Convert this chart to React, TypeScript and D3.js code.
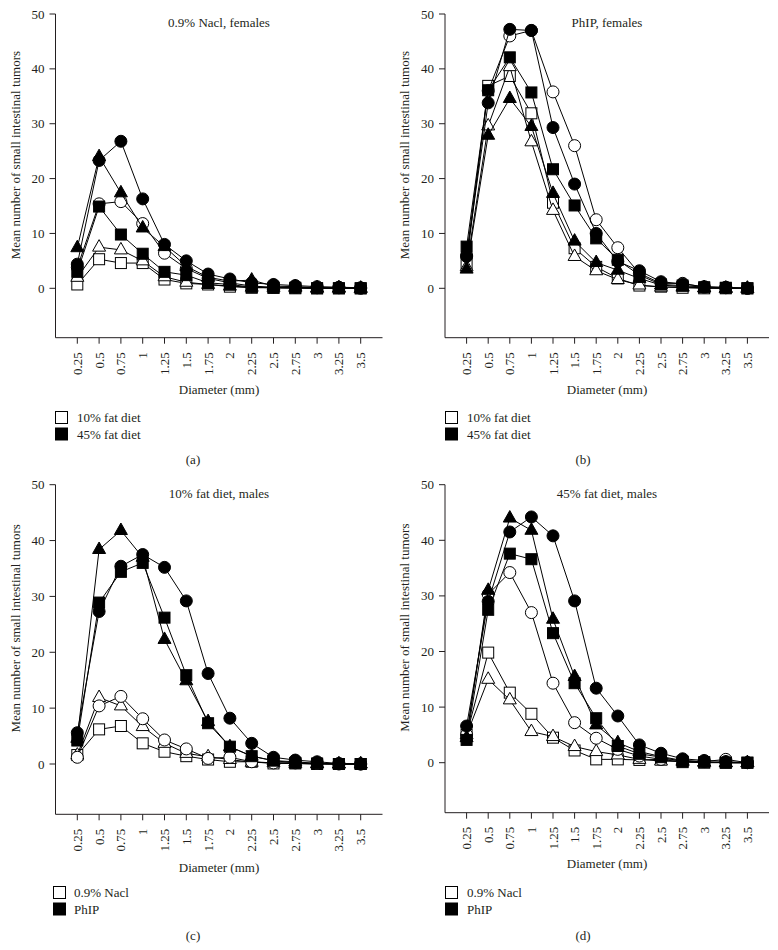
import React from "react";
import * as d3 from "d3";

const diameters = [0.25, 0.5, 0.75, 1, 1.25, 1.5, 1.75, 2, 2.25, 2.5, 2.75, 3, 3.25, 3.5];
const diameterLabels = ["0.25", "0.5", "0.75", "1", "1.25", "1.5", "1.75", "2", "2.25", "2.5", "2.75", "3", "3.25", "3.5"];
const yTicks = [0, 10, 20, 30, 40, 50];

// Panel (a) 0.9% Nacl, females
const aOpenCircle = [3.8, 15.4, 15.8, 11.8, 6.4, 3.6, 1.8, 1.0, 0.4, 0.2, 0.2, 0.1, 0.1, 0];
const aFilledCircle = [4.4, 23.3, 26.8, 16.3, 8.0, 5.0, 2.6, 1.7, 1.0, 0.7, 0.5, 0.3, 0.2, 0.1];
const aOpenTriangle = [2.0, 7.5, 7.0, 5.0, 2.1, 1.1, 0.7, 0.4, 0.2, 0.1, 0.1, 0, 0, 0];
const aFilledTriangle = [7.4, 24.0, 17.4, 11.0, 7.6, 4.0, 2.0, 1.3, 1.5, 0.4, 0.3, 0.1, 0.1, 0];
const aOpenSquare = [0.7, 5.3, 4.6, 4.6, 1.6, 0.9, 0.7, 0.3, 0.1, 0.1, 0, 0, 0, 0];
const aFilledSquare = [3.0, 14.9, 9.8, 6.3, 3.0, 2.4, 1.0, 0.7, 0.2, 0.1, 0.1, 0, 0, 0];

// Panel (b) PhIP, females
const bOpenCircle = [6.0, 36.0, 46.0, 47.0, 35.8, 26.0, 12.5, 7.4, 2.7, 0.9, 0.9, 0.2, 0.1, 0];
const bFilledCircle = [5.8, 33.8, 47.2, 47.0, 29.3, 19.0, 10.0, 4.9, 3.2, 1.2, 0.8, 0.3, 0.2, 0];
const bOpenTriangle = [3.9, 29.6, 40.4, 26.7, 14.2, 5.8, 3.2, 1.6, 0.6, 0.2, 0.2, 0.1, 0, 0];
const bFilledTriangle = [3.5, 27.9, 34.6, 29.5, 17.3, 8.6, 4.7, 3.3, 1.8, 0.6, 0.3, 0.1, 0, 0];
const bOpenSquare = [4.5, 36.9, 38.7, 31.9, 15.6, 7.3, 3.9, 1.8, 0.5, 0.3, 0.1, 0, 0, 0];
const bFilledSquare = [7.6, 36.1, 42.1, 35.7, 21.7, 15.1, 9.1, 5.2, 2.4, 0.7, 0.5, 0.2, 0.1, 0];

// Panel (c) 10% fat diet, males
const cOpenCircle = [1.2, 10.4, 12.1, 8.1, 4.3, 2.7, 1.0, 1.2, 0.4, 0.2, 0.2, 0.1, 0, 0];
const cFilledCircle = [5.6, 27.3, 35.4, 37.5, 35.2, 29.2, 16.2, 8.2, 3.7, 1.2, 0.7, 0.4, 0.1, 0];
const cOpenTriangle = [1.6, 11.9, 10.4, 6.7, 3.7, 1.9, 1.3, 0.8, 0.3, 0.2, 0.1, 0, 0, 0];
const cFilledTriangle = [4.6, 38.4, 41.8, 37.0, 22.3, 14.9, 7.6, 3.1, 1.4, 0.6, 0.4, 0.1, 0, 0];
const cOpenSquare = [1.6, 6.2, 6.8, 3.7, 2.2, 1.4, 0.8, 0.4, 0.4, 0.1, 0.1, 0, 0, 0];
const cFilledSquare = [4.2, 28.9, 34.4, 36.0, 26.2, 15.9, 7.3, 3.1, 1.4, 0.6, 0.2, 0.1, 0, 0];

// Panel (d) 45% fat diet, males
const dOpenCircle = [5.0, 30.3, 34.2, 27.0, 14.3, 7.2, 4.4, 2.4, 1.2, 0.6, 0.4, 0.2, 0.6, 0];
const dFilledCircle = [6.6, 29.0, 41.5, 44.2, 40.8, 29.1, 13.4, 8.4, 3.2, 1.7, 0.7, 0.4, 0.2, 0];
const dOpenTriangle = [5.0, 15.0, 11.3, 5.6, 4.7, 2.9, 2.0, 1.4, 0.6, 0.3, 0.2, 0.1, 0, 0];
const dFilledTriangle = [4.5, 31.0, 44.0, 41.8, 25.8, 15.5, 6.8, 3.6, 2.0, 1.1, 0.4, 0.1, 0, 0];
const dOpenSquare = [5.0, 19.8, 12.6, 8.8, 4.5, 2.2, 0.6, 0.6, 0.5, 0.6, 0.1, 0, 0, 0];
const dFilledSquare = [4.1, 27.5, 37.6, 36.6, 23.3, 14.3, 8.0, 3.0, 1.6, 1.0, 0.2, 0.1, 0, 0];

const panelTitles = ["0.9% Nacl, females", "PhIP, females", "10% fat diet, males", "45% fat diet, males"];
const panelLetters = ["(a)", "(b)", "(c)", "(d)"];
const legendTop = ["10% fat diet", "45% fat diet"];
const legendBottom = ["0.9% Nacl", "PhIP"];

type Shape = "circle" | "triangle" | "square";
type Series = { shape: Shape; filled: boolean; values: number[] };

const mk = (os: number[], ot: number[], oc: number[], fs: number[], ft: number[], fc: number[]): Series[] => [
  { shape: "square", filled: false, values: os },
  { shape: "triangle", filled: false, values: ot },
  { shape: "circle", filled: false, values: oc },
  { shape: "square", filled: true, values: fs },
  { shape: "triangle", filled: true, values: ft },
  { shape: "circle", filled: true, values: fc },
];

const panelSeries: Series[][] = [
  mk(aOpenSquare, aOpenTriangle, aOpenCircle, aFilledSquare, aFilledTriangle, aFilledCircle),
  mk(bOpenSquare, bOpenTriangle, bOpenCircle, bFilledSquare, bFilledTriangle, bFilledCircle),
  mk(cOpenSquare, cOpenTriangle, cOpenCircle, cFilledSquare, cFilledTriangle, cFilledCircle),
  mk(dOpenSquare, dOpenTriangle, dOpenCircle, dFilledSquare, dFilledTriangle, dFilledCircle),
];

const INK = "#231f20";
const FONT = "'Liberation Serif', 'Times New Roman', serif";

type Layout = {
  x0: number; x1: number; yTop: number; yZero: number; yBottom: number;
  legendX: number; legendY: number; legendTextX: number; letterX: number; letterY: number;
  tickLabelGap: number; xTitleY: number;
};

const layouts: Layout[] = [
  { x0: 55.5, x1: 382.5, yTop: 14, yZero: 288.3, yBottom: 337.7, legendX: 55, legendY: 411, legendTextX: 77, letterX: 193, letterY: 464, tickLabelGap: 14.5, xTitleY: 394 },
  { x0: 445, x1: 769, yTop: 14, yZero: 288.3, yBottom: 337.7, legendX: 445, legendY: 411, legendTextX: 467, letterX: 583, letterY: 464, tickLabelGap: 14.5, xTitleY: 394 },
  { x0: 55.5, x1: 382.5, yTop: 484.7, yZero: 764, yBottom: 814.3, legendX: 53, legendY: 886, legendTextX: 74, letterX: 193, letterY: 940, tickLabelGap: 14.5, xTitleY: 872 },
  { x0: 445, x1: 769, yTop: 484.7, yZero: 762.7, yBottom: 812.7, legendX: 445, legendY: 886, legendTextX: 467, letterX: 583, letterY: 940, tickLabelGap: 14, xTitleY: 868 },
];

function Marker({ shape, filled, x, y }: { shape: Shape; filled: boolean; x: number; y: number }) {
  const fill = filled ? "#000" : "#fff";
  const common = { fill, stroke: "#000", strokeWidth: 1 };
  if (shape === "circle") return <circle cx={x} cy={y} r={6} {...common} />;
  if (shape === "square") return <rect x={x - 5.5} y={y - 5.5} width={11} height={11} {...common} />;
  const pts = [[x, y - 7.5], [x + 6.5, y + 4], [x - 6.5, y + 4]].map((p) => p.join(",")).join(" ");
  return <polygon points={pts} {...common} />;
}

function Panel({ idx }: { idx: number }) {
  const L = layouts[idx];
  const x = d3.scaleLinear().domain([0, 3.75]).range([L.x0, L.x1]);
  const y = d3.scaleLinear().domain([0, 50]).range([L.yZero, L.yTop]);
  const line = d3.line<number>().x((_, i) => x(diameters[i])).y((v) => y(v));
  const cx = (L.x0 + L.x1) / 2;
  const legend = idx < 2 ? legendTop : legendBottom;
  return (
    <g fontFamily={FONT} fill={INK}>
      {/* axes */}
      <line x1={L.x0} x2={L.x0} y1={L.yTop} y2={L.yBottom} stroke={INK} strokeWidth={1} />
      <line x1={L.x0} x2={L.x1} y1={L.yBottom} y2={L.yBottom} stroke={INK} strokeWidth={1} />
      {yTicks.map((t) => (
        <g key={t}>
          <line x1={L.x0 - 6} x2={L.x0} y1={y(t)} y2={y(t)} stroke={INK} strokeWidth={1} />
          <text x={L.x0 - 11} y={y(t)} dy="0.35em" textAnchor="end" fontSize={13}>{t}</text>
        </g>
      ))}
      {diameters.map((d, i) => (
        <g key={d}>
          <line x1={x(d)} x2={x(d)} y1={L.yBottom} y2={L.yBottom + 6} stroke={INK} strokeWidth={1} />
          <text
            transform={`translate(${x(d) + 4.5},${L.yBottom + L.tickLabelGap}) rotate(-90)`}
            textAnchor="end"
            fontSize={13}
          >
            {diameterLabels[i]}
          </text>
        </g>
      ))}
      <text x={cx} y={L.xTitleY} textAnchor="middle" fontSize={13}>Diameter (mm)</text>
      <text
        transform={`translate(${L.x0 - 36},${(L.yTop + L.yZero) / 2 + 4}) rotate(-90)`}
        textAnchor="middle"
        fontSize={13}
      >
        Mean number of small intestinal tumors
      </text>
      <text x={cx} y={L.yTop + 13} textAnchor="middle" fontSize={13}>{panelTitles[idx]}</text>
      {/* series */}
      {panelSeries[idx].map((s, si) => (
        <g key={si}>
          <path d={line(s.values) || ""} fill="none" stroke="#000" strokeWidth={1} />
          {s.values.map((v, i) => (
            <Marker key={i} shape={s.shape} filled={s.filled} x={x(diameters[i])} y={y(v)} />
          ))}
        </g>
      ))}
      {/* legend */}
      {legend.map((lab, i) => (
        <g key={lab}>
          <rect x={L.legendX + 0.5} y={L.legendY + i * 16.5 + 0.5} width={12} height={12}
            fill={i === 0 ? "#fff" : "#000"} stroke="#000" strokeWidth={1} />
          <text x={L.legendTextX} y={L.legendY + i * 16.5 + 11} fontSize={13}>{lab}</text>
        </g>
      ))}
      <text x={L.letterX} y={L.letterY} textAnchor="middle" fontSize={13}>{panelLetters[idx]}</text>
    </g>
  );
}

export default function App() {
  return (
    <svg width={778} height={950} style={{ position: "absolute", left: 0, top: 0, background: "#fff" }}>
      <rect width={778} height={950} fill="#fff" />
      {[0, 1, 2, 3].map((i) => <Panel key={i} idx={i} />)}
    </svg>
  );
}
